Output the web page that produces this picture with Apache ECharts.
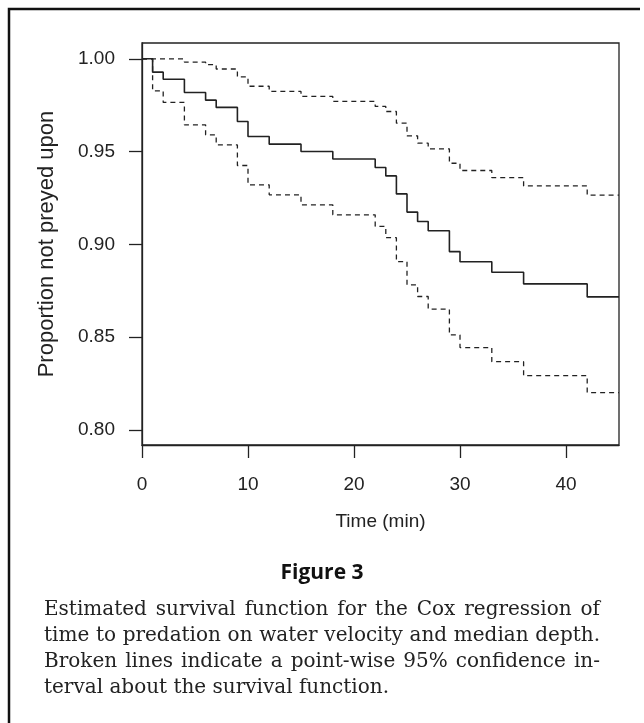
<!DOCTYPE html>
<html>
<head>
<meta charset="utf-8">
<script src="https://cdn.jsdelivr.net/npm/echarts@6/dist/echarts.min.js"></script>
<style>
html,body{margin:0;padding:0;background:#fff;}
#chart{width:644px;height:723px;}
</style>
</head>
<body>
<div id="chart"></div>
<script>
// ---- data ----
const times = [0, 1, 2, 4, 6, 7, 9, 10, 12, 15, 18, 22, 23, 24, 25, 26, 27, 29, 30, 33, 36, 42, 45];
const survival = [1.000, 0.9928, 0.9890, 0.9818, 0.9777, 0.9738, 0.9662, 0.9581, 0.9540, 0.9500, 0.9460, 0.9414, 0.9369, 0.9272, 0.9174, 0.9123, 0.9073, 0.8961, 0.8906, 0.8850, 0.8787, 0.8717, 0.8717];
const upperCI = [1.000, 1.000, 1.000, 0.9982, 0.9968, 0.9945, 0.9902, 0.9852, 0.9824, 0.9797, 0.9770, 0.9743, 0.9716, 0.9653, 0.9585, 0.9545, 0.9515, 0.9437, 0.9398, 0.9360, 0.9315, 0.9265, 0.9265];
const lowerCI = [1.000, 0.9827, 0.9765, 0.9644, 0.9590, 0.9536, 0.9425, 0.9321, 0.9267, 0.9213, 0.9159, 0.9097, 0.9036, 0.8907, 0.8782, 0.8719, 0.8651, 0.8512, 0.8444, 0.8368, 0.8293, 0.8201, 0.8201];
const xTicks = [0, 10, 20, 30, 40];
const yTicks = [0.80, 0.85, 0.90, 0.95, 1.00];
const xTitle = 'Time (min)';
const yTitle = 'Proportion not preyed upon';
const figureLabel = 'Figure 3';
const captionLines = [
  'Estimated survival function for the Cox regression of',
  'time to predation on water velocity and median depth.',
  'Broken lines indicate a point-wise 95% confidence in-',
  'terval about the survival function.'
];

const pair = (ys) => times.map((t, i) => [t, ys[i]]);
const ink = '#222';
const sans = '"Liberation Sans", Arial, sans-serif';

// caption: justified lines built from words
const capFont = '20px "DejaVu Serif"';
const capLeft = 44, capRight = 600, capMid = 610, capLead = 26;
const ctx = document.createElement('canvas').getContext('2d');
ctx.font = capFont;
const spaceW = ctx.measureText(' ').width;
const captionGraphics = [];
captionLines.forEach((line, li) => {
  const y = capMid + li * capLead;
  const words = line.split(' ');
  const justify = li < captionLines.length - 1;
  const widths = words.map(w => ctx.measureText(w).width);
  const total = widths.reduce((a, b) => a + b, 0);
  let gap = justify && words.length > 1 ? (capRight - capLeft - total) / (words.length - 1) : spaceW;
  gap = Math.max(gap, spaceW * 0.7);
  let x = capLeft;
  words.forEach((w, wi) => {
    captionGraphics.push({
      type: 'text', x: x, y: y,
      style: { text: w, font: capFont, fill: '#222', verticalAlign: 'middle', align: 'left' }
    });
    x += widths[wi] + gap;
  });
});

const chart = echarts.init(document.getElementById('chart'), null, { renderer: 'canvas' });
chart.setOption({
  backgroundColor: '#fff',
  animation: false,
  grid: {
    left: 142, right: 25, top: 43, bottom: 278,
    show: true, borderColor: ink, borderWidth: 1.3, backgroundColor: 'transparent'
  },
  xAxis: {
    type: 'value', min: 0, max: 45,
    name: xTitle, nameLocation: 'middle', nameGap: 67,
    nameTextStyle: { fontFamily: sans, fontSize: 19, color: ink },
    axisLine: { show: true, lineStyle: { color: ink, width: 1.3 } },
    axisTick: { show: true, length: 13, inside: false, customValues: xTicks, lineStyle: { color: ink, width: 1.3 } },
    axisLabel: { customValues: xTicks, margin: 30, fontFamily: sans, fontSize: 19, color: ink },
    splitLine: { show: false }
  },
  yAxis: {
    type: 'value', min: 0.7919, max: 1.0085,
    name: yTitle, nameLocation: 'middle', nameGap: 84, nameRotate: 90,
    nameTextStyle: { fontFamily: sans, fontSize: 22, color: ink },
    axisLine: { show: true, lineStyle: { color: ink, width: 1.3 } },
    axisTick: { show: true, length: 13, inside: false, customValues: yTicks, lineStyle: { color: ink, width: 1.3 } },
    axisLabel: { customValues: yTicks, margin: 27, fontFamily: sans, fontSize: 19, color: ink,
      formatter: v => Number(v).toFixed(2) },
    splitLine: { show: false }
  },
  series: [
    { name: 'Upper 95% CI', type: 'line', step: 'end', data: pair(upperCI), symbol: 'none',
      lineStyle: { color: ink, width: 1.3, type: [5, 4] } },
    { name: 'Lower 95% CI', type: 'line', step: 'end', data: pair(lowerCI), symbol: 'none',
      lineStyle: { color: ink, width: 1.3, type: [5, 4] } },
    { name: 'Survival', type: 'line', step: 'end', data: pair(survival), symbol: 'none',
      lineStyle: { color: ink, width: 1.6, type: 'solid' } }
  ],
  graphic: [
    { type: 'polyline', shape: { points: [[9, 740], [9, 9], [640, 9]] },
      style: { fill: 'none', stroke: '#111', lineWidth: 2.5 }, silent: true },
    { type: 'text', x: 322, y: 573,
      style: { text: figureLabel, font: 'bold 21px "Open Sans", sans-serif', fill: '#111', align: 'center', verticalAlign: 'middle' } },
    ...captionGraphics
  ]
});
</script>
</body>
</html>
